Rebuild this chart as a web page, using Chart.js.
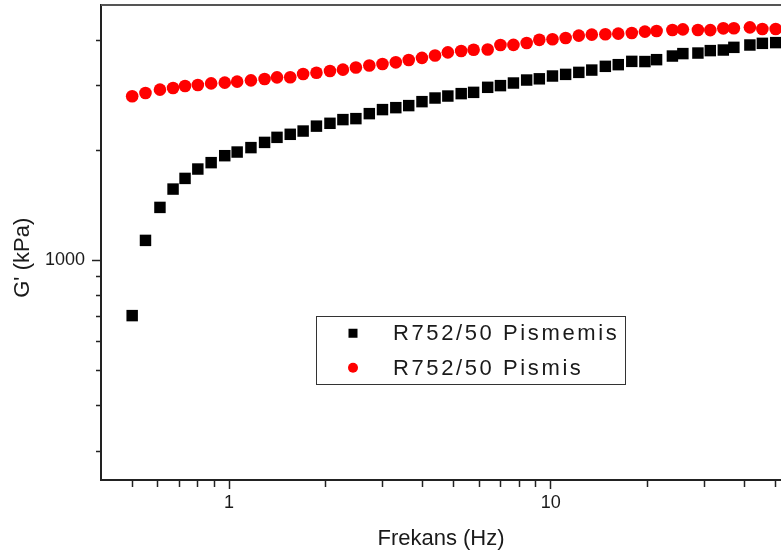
<!DOCTYPE html>
<html>
<head>
<meta charset="utf-8">
<title>G' - Frekans</title>
<script src="https://cdn.jsdelivr.net/npm/chart.js@4.4.1/dist/chart.umd.min.js"></script>
<style>
  html, body { margin: 0; padding: 0; background: #fff; }
  canvas { display: block; }
</style>
</head>
<body>
<canvas id="modulusChart" width="781" height="555"></canvas>
<script>
// frequency sweep (Hz) and storage modulus G' (kPa)
const freqHz = [
  0.5, 0.55, 0.61, 0.67, 0.73, 0.8, 0.88, 0.97, 1.06, 1.17,
  1.29, 1.41, 1.55, 1.7, 1.87, 2.06, 2.26, 2.48, 2.73, 3.0,
  3.3, 3.62, 3.98, 4.37, 4.79, 5.27, 5.76, 6.37, 6.98, 7.66,
  8.42, 9.22, 10.13, 11.13, 12.23, 13.42, 14.79, 16.22, 17.87, 19.63,
  21.34, 23.9, 25.76, 28.69, 31.35, 34.41, 37.11, 41.62, 45.51, 50.06
];
const gPismemis = [
  705, 1133, 1395, 1566, 1675, 1777, 1850, 1933, 1978, 2034,
  2102, 2170, 2212, 2258, 2329, 2371, 2427, 2442, 2520, 2585,
  2617, 2651, 2718, 2781, 2816, 2859, 2882, 2975, 3007, 3057,
  3115, 3139, 3195, 3228, 3269, 3317, 3396, 3432, 3504, 3500,
  3542, 3624, 3680, 3693, 3750, 3764, 3828, 3885, 3926, 3944
];
const gPismis = [
  2811, 2870, 2932, 2962, 2999, 3018, 3050, 3064, 3083, 3109,
  3134, 3168, 3170, 3235, 3260, 3297, 3326, 3370, 3413, 3446,
  3483, 3534, 3583, 3636, 3709, 3740, 3772, 3775, 3885, 3888,
  3934, 4014, 4027, 4060, 4122, 4148, 4156, 4174, 4190, 4227,
  4243, 4270, 4288, 4270, 4268, 4316, 4318, 4343, 4297, 4297
];
const seriesLabels = ['R752/50 Pismemis', 'R752/50 Pismis'];

const xTickValues = [0.5, 0.6, 0.7, 0.8, 0.9, 1, 2, 3, 4, 5, 6, 7, 8, 9, 10, 20, 30, 40, 50];
const xLabelValues = [1, 10];
const yTickValues = [300, 400, 500, 600, 700, 800, 900, 1000, 2000, 3000, 4000];
const yLabelValues = [1000];

const FONT = '"Liberation Sans", Arial, sans-serif';
const INK = '#1a1a1a';

function toPoints(xs, ys) {
    return xs.map((x, i) => ({ x, y: ys[i] }));
}

// thin line closing the top of the plot box
const plotFrame = {
    id: 'plotFrame',
    afterDraw(chart) {
        const { ctx, chartArea } = chart;
        ctx.save();
        ctx.strokeStyle = '#555';
        ctx.lineWidth = 2;
        ctx.beginPath();
        ctx.moveTo(chartArea.left, chartArea.top);
        ctx.lineTo(chartArea.right, chartArea.top);
        ctx.stroke();
        ctx.restore();
    }
};

// boxed legend sitting inside the plot
const insetLegend = {
    id: 'insetLegend',
    afterDraw(chart, args, opts) {
        const { ctx } = chart;
        const { left, top, width, height, rowHeight } = opts;
        ctx.save();
        ctx.fillStyle = '#fff';
        ctx.fillRect(left, top, width, height);
        ctx.strokeStyle = '#333';
        ctx.lineWidth = 1;
        ctx.strokeRect(left + 0.5, top + 0.5, width, height);

        chart.data.datasets.forEach((ds, i) => {
            const cy = top + rowHeight / 2 + i * rowHeight;
            const mx = left + 37;
            ctx.fillStyle = ds.backgroundColor;
            if (ds.pointStyle === 'rect') {
                ctx.fillRect(mx - 4.5, cy - 4.5, 9, 9);
            } else {
                ctx.beginPath();
                ctx.arc(mx, cy, 5, 0, Math.PI * 2);
                ctx.fill();
            }
            ctx.fillStyle = INK;
            ctx.font = '22px ' + FONT;
            ctx.letterSpacing = '2.6px';
            ctx.textBaseline = 'middle';
            ctx.textAlign = 'left';
            ctx.fillText(ds.label, left + 77, cy + 1);
        });
        ctx.restore();
    }
};

const ctx = document.getElementById('modulusChart');

new Chart(ctx, {
    type: 'scatter',
    data: {
        datasets: [
            {
                label: seriesLabels[0],
                data: toPoints(freqHz, gPismemis),
                pointStyle: 'rect',
                pointRadius: 8.1,
                pointBorderWidth: 0,
                backgroundColor: '#000',
                borderColor: '#000',
            },
            {
                label: seriesLabels[1],
                data: toPoints(freqHz, gPismis),
                pointStyle: 'circle',
                pointRadius: 6.3,
                pointBorderWidth: 0,
                backgroundColor: '#ff0000',
                borderColor: '#ff0000',
            },
        ],
    },
    options: {
        responsive: false,
        animation: false,
        events: [],
        layout: {
            autoPadding: false,
            padding: { top: 5, right: 0, bottom: 0, left: 0 },
        },
        plugins: {
            legend: { display: false },
            tooltip: { enabled: false },
            insetLegend: { left: 316, top: 316, width: 309, height: 68, rowHeight: 34.5 },
        },
        scales: {
            x: {
                type: 'logarithmic',
                min: 0.4,
                max: 52,
                afterBuildTicks: (scale) => {
                    scale.ticks = xTickValues.map((value) => ({ value }));
                },
                afterFit: (scale) => {
                    scale.height = 75;
                    scale.paddingLeft = 0;
                    scale.paddingRight = 0;
                },
                ticks: {
                    autoSkip: false,
                    maxRotation: 0,
                    minRotation: 0,
                    padding: 3,
                    color: INK,
                    font: { family: FONT, size: 18 },
                    callback: (value) => (xLabelValues.includes(value) ? String(value) : ''),
                },
                grid: {
                    drawOnChartArea: false,
                    tickLength: 9,
                    tickWidth: 1.5,
                    tickColor: '#222',
                    tickBorderDash: (c) => (c.tick && xLabelValues.includes(c.tick.value) ? [] : [6, 20]),
                },
                border: { color: '#222', width: 2 },
                title: {
                    display: true,
                    text: 'Frekans (Hz)',
                    color: INK,
                    font: { family: FONT, size: 22 },
                    padding: { top: 0, bottom: 3 },
                },
            },
            y: {
                type: 'logarithmic',
                min: 250,
                max: 5000,
                afterBuildTicks: (scale) => {
                    scale.ticks = yTickValues.map((value) => ({ value }));
                },
                afterFit: (scale) => {
                    scale.width = 101;
                    scale.paddingTop = 0;
                    scale.paddingBottom = 0;
                },
                ticks: {
                    autoSkip: false,
                    padding: 7,
                    color: INK,
                    font: { family: FONT, size: 18 },
                    callback: (value) => (yLabelValues.includes(value) ? String(value) : ''),
                },
                grid: {
                    drawOnChartArea: false,
                    tickLength: 9,
                    tickWidth: 1.5,
                    tickColor: '#222',
                    // short minor ticks hug the axis line
                    tickBorderDash: (c) => (c.tick && yLabelValues.includes(c.tick.value) ? [] : [0, 4, 5, 20]),
                },
                border: { color: '#222', width: 2 },
                title: {
                    display: true,
                    // trailing spaces nudge the rotated title down a little
                    text: "G' (kPa)     ",
                    color: INK,
                    font: { family: FONT, size: 22 },
                    padding: { top: 10, bottom: 0 },
                },
            },
        },
    },
    plugins: [plotFrame, insetLegend],
});
</script>
</body>
</html>
